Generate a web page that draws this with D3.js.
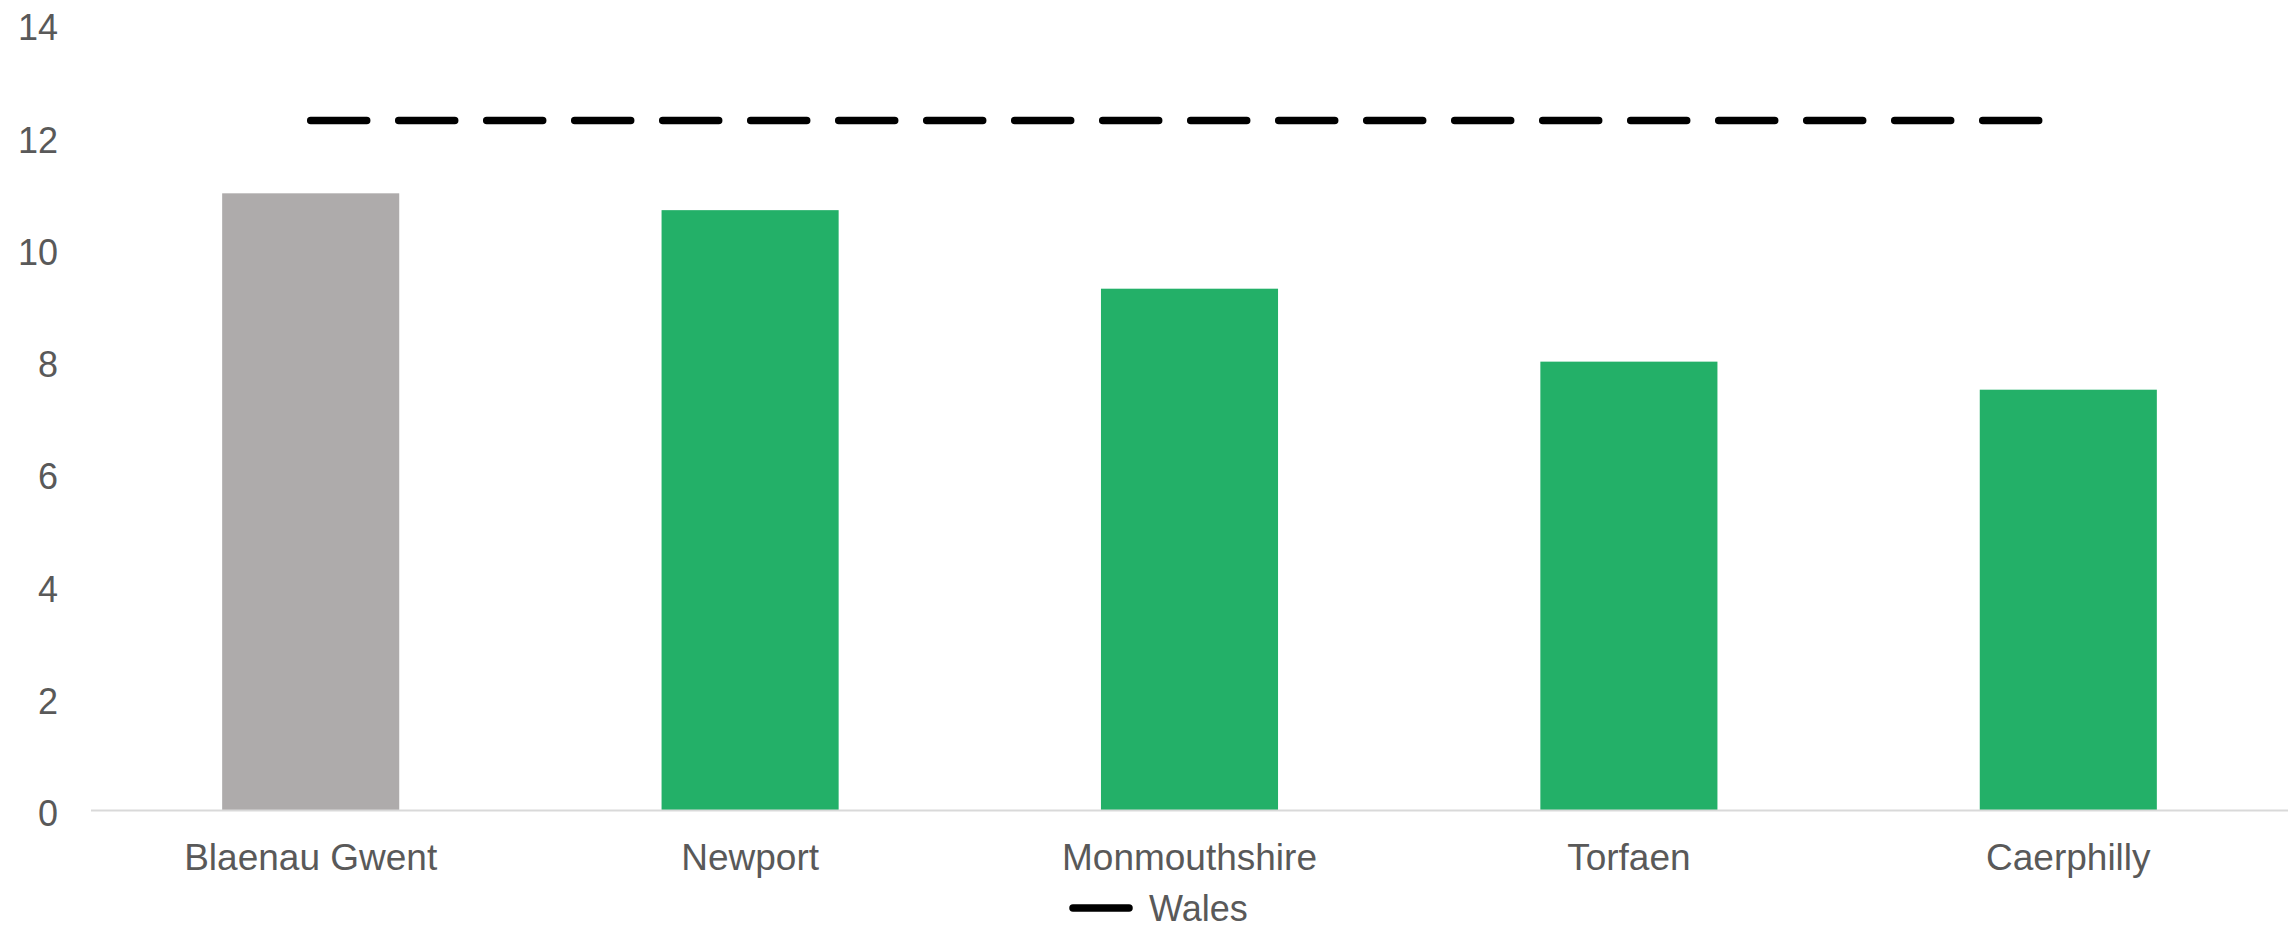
<!DOCTYPE html>
<html>
<head>
<meta charset="utf-8">
<style>
  html, body { margin: 0; padding: 0; background: #fff; }
  svg { display: block; font-family: "Liberation Sans", Arial, sans-serif; }
</style>
</head>
<body>
<svg id="chart"></svg>
<script src="https://d3js.org/d3.v7.min.js"></script>
<script>
const width = 2292;
const height = 930;

// data
const areas = ['Blaenau Gwent', 'Newport', 'Monmouthshire', 'Torfaen', 'Caerphilly'];
const values = [11.0, 10.7, 9.3, 8.0, 7.5];
const barColours = ['#AEABAB', '#23B068', '#23B068', '#23B068', '#23B068'];
const walesValue = 12.3;
const yTicks = [0, 2, 4, 6, 8, 10, 12, 14];
const legendLabel = 'Wales';

const svg = d3.select('#chart').attr('width', width).attr('height', height);

const x = d3.scaleBand()
    .domain(areas)
    .range([91, 2288])
    .paddingInner(0.597)
    .paddingOuter(0.2985);

const y = d3.scaleLinear()
    .domain([0, 14])
    .range([810.5, 25]);

// y tick labels (no grid lines, no axis line)
svg.append('g')
    .selectAll('text')
    .data(yTicks)
    .join('text')
    .attr('x', 58)
    .attr('y', d => y(d))
    .attr('dy', '0.43em')
    .attr('text-anchor', 'end')
    .attr('font-size', 36)
    .attr('fill', '#595959')
    .text(d => d);

// bars
svg.append('g')
    .selectAll('rect')
    .data(areas)
    .join('rect')
    .attr('x', d => x(d))
    .attr('width', x.bandwidth())
    .attr('y', (d, i) => y(values[i]))
    .attr('height', (d, i) => y(0) - y(values[i]))
    .attr('fill', (d, i) => barColours[i]);

// category axis line
svg.append('line')
    .attr('x1', 91).attr('x2', 2288)
    .attr('y1', y(0)).attr('y2', y(0))
    .attr('stroke', '#D9D9D9')
    .attr('stroke-width', 2);

// category labels
svg.append('g')
    .selectAll('text')
    .data(areas)
    .join('text')
    .attr('x', d => x(d) + x.bandwidth() / 2)
    .attr('y', 870)
    .attr('text-anchor', 'middle')
    .attr('font-size', 37)
    .attr('fill', '#595959')
    .text(d => d);

// Wales reference line
const line = d3.line()
    .x(d => x(d) + x.bandwidth() / 2)
    .y(() => y(walesValue));

svg.append('path')
    .datum(areas)
    .attr('d', line)
    .attr('fill', 'none')
    .attr('stroke', '#000')
    .attr('stroke-width', 7.5)
    .attr('stroke-linecap', 'round')
    .attr('stroke-dasharray', '56 32');

// legend
const legend = svg.append('g');
legend.append('line')
    .attr('x1', 1073).attr('x2', 1129)
    .attr('y1', 908).attr('y2', 908)
    .attr('stroke', '#000')
    .attr('stroke-width', 7.5)
    .attr('stroke-linecap', 'round');
legend.append('text')
    .attr('x', 1149)
    .attr('y', 921)
    .attr('font-size', 36)
    .attr('fill', '#595959')
    .text(legendLabel);
</script>
</body>
</html>
